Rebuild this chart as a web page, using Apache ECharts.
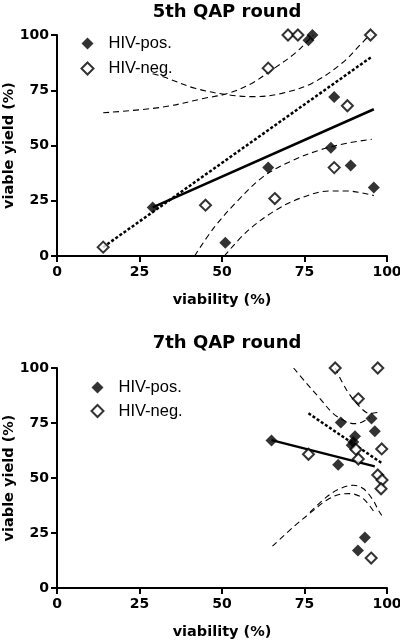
<!DOCTYPE html>
<html>
<head>
<meta charset="utf-8">
<script src="https://cdn.jsdelivr.net/npm/echarts@6/dist/echarts.min.js"></script>
<style>html,body{margin:0;padding:0;background:#fff}#c{width:400px;height:640px}</style>
</head>
<body>
<div id="c"></div>
<script>
// ---------- data: 5th QAP round ----------
const r5PosX = [29, 51, 64, 83, 89, 96, 84, 76.2, 77.4];
const r5PosY = [22, 6, 40, 49, 41, 31, 72, 97.6, 100];
const r5NegX = [14, 45, 66, 84, 88, 64, 70, 73, 95];
const r5NegY = [4, 23, 26, 40, 68, 85, 100, 100, 100];
const r5PosFitX = [29, 96];
const r5PosFitY = [22, 66.4];
const r5NegFitX = [14, 95.4];
const r5NegFitY = [4, 90.2];
const r5PosUpX = [29, 32.2, 41.8, 51.9, 60, 68.1, 77.2, 86.3, 92.3, 94.3, 95.3];
const r5PosUpY = [82.5, 81.1, 75.9, 72.9, 72.1, 73.6, 78.1, 87.2, 96.2, 99.2, 100];
const r5PosLoX = [50.7, 57.5, 65.5, 73.6, 82.7, 87.8, 95.4, 96];
const r5PosLoY = [0, 11, 20, 26.1, 29.4, 29.4, 27.6, 27.2];
const r5NegUpX = [14, 31.7, 44.8, 51.9, 59, 65.1, 72.1, 76.2, 77.6];
const r5NegUpY = [64.8, 67.3, 71.4, 73.6, 78.1, 84.2, 91.7, 97.7, 100];
const r5NegLoX = [41.7, 47.4, 54.5, 62.5, 70.6, 79.7, 87.8, 95.4];
const r5NegLoY = [0, 12.5, 24.6, 35.9, 42.7, 48, 51, 52.8];

// ---------- data: 7th QAP round ----------
const r7PosX = [65, 86, 95.3, 96.3, 90.3, 89.8, 89.3, 85.2, 93.3, 91.2];
const r7PosY = [67.1, 75.2, 77, 71.2, 69, 66.4, 64.9, 56, 22.9, 17];
const r7NegX = [84.3, 97.2, 91.3, 98.4, 76.2, 90.6, 91.3, 97.2, 98.5, 98.2, 95.2];
const r7NegY = [100, 100, 86, 63.2, 60.8, 63, 58.6, 51.4, 49.1, 45.1, 13.6];
const r7PosFitX = [65, 96.3];
const r7PosFitY = [67.2, 55.3];
const r7NegFitX = [76.2, 98.4];
const r7NegFitY = [79.4, 56.8];
const r7PosUpX = [71.7, 75.7, 79.7, 83.7, 87.8, 90.3, 92.5, 94.8];
const r7PosUpY = [100, 92.9, 86.1, 79.3, 75.5, 74.7, 75.5, 77.5];
const r7PosLoX = [65.3, 71.6, 77.7, 81.7, 85.8, 88.8, 92.8, 96.4];
const r7PosLoY = [19, 27.7, 35.3, 39.9, 42.6, 42.9, 40.6, 33.8];
const r7NegUpX = [84.3, 87.8, 91.8, 94.8, 97.9];
const r7NegUpY = [100, 89.9, 82.3, 79.3, 80];
const r7NegLoX = [76.7, 81.7, 85.8, 89.8, 92.8, 95.8, 97.4, 98.4];
const r7NegLoY = [34.5, 41.4, 45.2, 46.7, 45.2, 39.9, 35.3, 33];

const titles = ['5th QAP round', '7th QAP round'];
const xTicks = [0, 25, 50, 75, 100];
const yTicks = [0, 25, 50, 75, 100];
const legendNames = ['HIV-pos.', 'HIV-neg.'];

function zip(xs, ys) { return xs.map((x, i) => [x, ys[i]]); }

const BOLD = 'DejaVu Sans';
function xAxis(gi) {
  return {
    gridIndex: gi, type: 'value', min: xTicks[0], max: xTicks[xTicks.length - 1], interval: 25,
    axisLine: { lineStyle: { color: '#000', width: 2 } },
    axisTick: { length: 6, lineStyle: { color: '#000', width: 2 } },
    axisLabel: { color: '#000', fontWeight: 'bold', fontSize: 14, fontFamily: BOLD, margin: 9 },
    splitLine: { show: false },
    name: 'viability (%)', nameLocation: 'middle', nameGap: 37, nameMoveOverlap: false,
    nameTextStyle: { color: '#000', fontWeight: 'bold', fontSize: 14.5, fontFamily: BOLD }
  };
}
function yAxis(gi) {
  return {
    gridIndex: gi, type: 'value', min: yTicks[0], max: yTicks[yTicks.length - 1], interval: 25,
    axisLine: { show: true, lineStyle: { color: '#000', width: 2 } },
    axisTick: { show: true, length: 6, lineStyle: { color: '#000', width: 2 } },
    axisLabel: { color: '#000', fontWeight: 'bold', fontSize: 14, fontFamily: BOLD, margin: 8 },
    splitLine: { show: false },
    name: 'viable yield (%)', nameLocation: 'middle', nameGap: 40, nameMoveOverlap: false,
    nameTextStyle: { color: '#000', fontWeight: 'bold', fontSize: 14.5, fontFamily: BOLD }
  };
}
function scatter(name, gi, xs, ys, filled) {
  return {
    type: 'scatter', name: name, xAxisIndex: gi, yAxisIndex: gi, z: 5,
    symbol: 'diamond', symbolSize: filled ? 12 : 11,
    itemStyle: filled ? { color: '#000' } : { color: '#fff', borderColor: '#000', borderWidth: 2 },
    data: zip(xs, ys)
  };
}
function line(gi, xs, ys, kind) {
  const ls = kind === 'fit' ? { color: '#000', width: 2.5, type: 'solid' }
    : kind === 'dot' ? { color: '#000', width: 2.5, type: [3, 2] }
    : { color: '#000', width: 1.1, type: [6, 4] };
  return {
    type: 'line', name: 'l' + gi + kind + xs[0], xAxisIndex: gi, yAxisIndex: gi, z: 2,
    symbol: 'none', smooth: kind === 'ci' ? 0.35 : false, clip: true,
    lineStyle: ls, data: zip(xs, ys)
  };
}
function legend(top, left, gap) {
  return {
    data: legendNames, orient: 'vertical', top: top, left: left, itemGap: gap,
    itemWidth: 12, itemHeight: 12, selectedMode: false,
    textStyle: { color: '#000', fontSize: 16.5, fontFamily: 'Liberation Sans', padding: [0, 0, 0, 10] }
  };
}

const chart = echarts.init(document.getElementById('c'), null, { renderer: 'canvas' });
chart.setOption({
  animation: false,
  backgroundColor: '#fff',
  title: [
    { text: titles[0], left: 222, top: -2, textAlign: 'center',
      textStyle: { fontFamily: BOLD, fontWeight: 'bold', fontSize: 18, color: '#000' } },
    { text: titles[1], left: 222, top: 329, textAlign: 'center',
      textStyle: { fontFamily: BOLD, fontWeight: 'bold', fontSize: 18, color: '#000' } }
  ],
  legend: [legend(30, 75.5, 8), legend(374, 85.5, 6.5)],
  grid: [
    { left: 57, right: 13, top: 35, height: 221, containLabel: false, outerBoundsMode: 'none' },
    { left: 57, right: 13, top: 368, height: 220, containLabel: false, outerBoundsMode: 'none' }
  ],
  xAxis: [xAxis(0), xAxis(1)],
  yAxis: [yAxis(0), yAxis(1)],
  series: [
    line(0, r5PosUpX, r5PosUpY, 'ci'),
    line(0, r5PosLoX, r5PosLoY, 'ci'),
    line(0, r5NegUpX, r5NegUpY, 'ci'),
    line(0, r5NegLoX, r5NegLoY, 'ci'),
    line(0, r5PosFitX, r5PosFitY, 'fit'),
    line(0, r5NegFitX, r5NegFitY, 'dot'),
    scatter(legendNames[0], 0, r5PosX, r5PosY, true),
    scatter(legendNames[1], 0, r5NegX, r5NegY, false),
    line(1, r7PosUpX, r7PosUpY, 'ci'),
    line(1, r7PosLoX, r7PosLoY, 'ci'),
    line(1, r7NegUpX, r7NegUpY, 'ci'),
    line(1, r7NegLoX, r7NegLoY, 'ci'),
    line(1, r7PosFitX, r7PosFitY, 'fit'),
    line(1, r7NegFitX, r7NegFitY, 'dot'),
    scatter(legendNames[0], 1, r7PosX, r7PosY, true),
    scatter(legendNames[1], 1, r7NegX, r7NegY, false)
  ]
});
</script>
</body>
</html>
